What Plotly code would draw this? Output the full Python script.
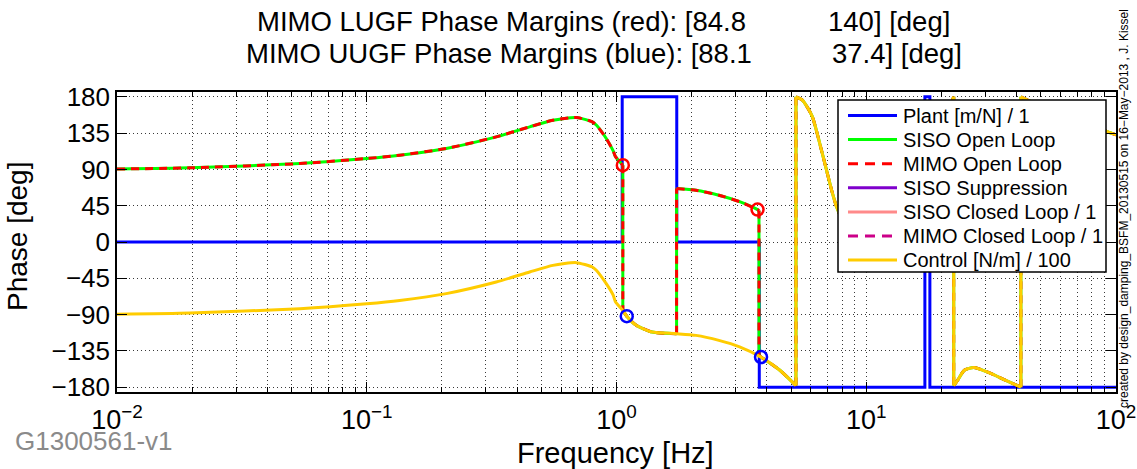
import plotly.graph_objects as go

# ---------------- data ----------------
plant_freq = [0.01, 1.054, 1.054, 1.743, 1.743, 3.73, 3.73, 17.17, 17.17, 17.98, 17.98, 100]
plant_phase = [0, 0, 180, 180, 0, 0, -180, -180, 180, 180, -180, -180]

ctrl_freq = [0.01, 0.0196, 0.054, 0.1, 0.1355, 0.208, 0.33, 0.449, 0.556, 0.69, 0.80, 0.83,
             0.91, 0.97, 0.99, 1.06, 1.099, 1.20, 1.39, 1.74, 2.08, 2.57, 3.11, 3.79, 4.51,
             5.23, 5.23, 5.55, 6.07, 6.64, 7.27, 7.6, 8.5, 10, 12, 15, 18, 20, 22.4,
             22.4, 23.2, 24.7, 27, 31, 36.2, 41.6,
             41.6, 45, 60, 80, 93.8, 100]
ctrl_phase = [-89.5, -88, -82.7, -76.5, -72.4, -64, -49.6, -37.2, -29, -25.6, -31, -35,
              -51.7, -66, -74, -84.8, -92, -103.3, -111.7, -113.7, -115.8, -122, -130, -142.7, -159,
              -178, 180, 176, 156, 112, 64, 44, 10, -15, -12, 20, 80, 140, 180,
              -178, -171.6, -159, -155.5, -162, -171.6, -180,
              180, 175, 160, 145, 136, 133]

ol_freq = [0.01, 0.0196, 0.054, 0.1, 0.1355, 0.208, 0.33, 0.449, 0.556, 0.69, 0.80, 0.83,
           0.91, 0.97, 0.99, 1.06, 1.06, 1.099, 1.20, 1.39, 1.74, 1.74, 2.08, 2.57, 3.11,
           3.67, 3.72, 3.72, 3.79]
ol_phase = [90.5, 92, 97.3, 103.5, 107.6, 116, 130.4, 142.8, 151, 154.4, 149, 145,
            128.3, 113, 106, 95.2, -84.8, -92, -103.3, -111.7, -113.7, 66.3, 64.2, 58, 50,
            40.2, 39, -141, -142.7]

lugf_freq = [1.06, 3.67]
lugf_phase = [95.2, 40.2]
uugf_freq = [1.099, 3.79]
uugf_phase = [-92.0, -142.6]

legend_names = ["Plant [m/N] / 1", "SISO Open Loop", "MIMO Open Loop", "SISO Suppression",
                "SISO Closed Loop / 1", "MIMO Closed Loop / 1", "Control [N/m] / 100"]
legend_colors = ["#0000FF", "#00FF00", "#FF0000", "#7F00CC", "#FF8A8A", "#CC0088", "#FFCC00"]
legend_dashes = ["solid", "solid", "10px,7px", "solid", "solid", "10px,7px", "solid"]

x_tickvals = [0.01, 0.1, 1, 10, 100]
x_ticktext = ["10<sup>\u22122</sup>", "10<sup>\u22121</sup>", "10<sup>0</sup>",
              "10<sup>1</sup>", "10<sup>2</sup>"]
x_minorvals = [m * d for d in (0.01, 0.1, 1, 10) for m in range(2, 10)]
y_tickvals = [-180, -135, -90, -45, 0, 45, 90, 135, 180]

title_l1 = ["MIMO LUGF Phase Margins (red): [84.8", "140] [deg]"]
title_l2 = ["MIMO UUGF Phase Margins (blue): [88.1", "37.4] [deg]"]
credit = "created by design_damping_BSFM_20130515 on 16\u2212May\u22122013 , J. Kissel"

# ---------------- helpers ----------------
def segments(xs, ys):
    """Split at repeated frequencies so vertical jumps become straight pieces."""
    ox, oy = [xs[0]], [ys[0]]
    for i in range(1, len(xs)):
        if xs[i] == xs[i - 1]:
            ox += [None, xs[i - 1], xs[i], None, xs[i]]
            oy += [None, ys[i - 1], ys[i], None, ys[i]]
        else:
            ox.append(xs[i])
            oy.append(ys[i])
    return ox, oy

FONT = "Liberation Sans, Arial, Helvetica, sans-serif"

fig = go.Figure()

# plant
fig.add_trace(go.Scatter(x=plant_freq, y=plant_phase, mode="lines", name=legend_names[0],
                         showlegend=False, line=dict(color=legend_colors[0], width=3)))

# open loops (coincide with control after the last crossing)
k = ctrl_freq.index(4.51)
olx, oly = segments(ol_freq + ctrl_freq[k:], ol_phase + ctrl_phase[k:])
fig.add_trace(go.Scatter(x=olx, y=oly, mode="lines", name=legend_names[1], showlegend=False,
                         line=dict(color=legend_colors[1], width=3, shape="spline", smoothing=0.6)))
fig.add_trace(go.Scatter(x=olx, y=oly, mode="lines", name=legend_names[2], showlegend=False,
                         line=dict(color=legend_colors[2], width=3, dash="8px,6px",
                                   shape="spline", smoothing=0.6)))
# control
cx, cy = segments(ctrl_freq, ctrl_phase)
fig.add_trace(go.Scatter(x=cx, y=cy, mode="lines", name=legend_names[6], showlegend=False,
                         line=dict(color=legend_colors[6], width=3, shape="spline", smoothing=0.6)))

# margin markers
fig.add_trace(go.Scatter(x=lugf_freq, y=lugf_phase, mode="markers", showlegend=False,
                         marker=dict(symbol="circle-open", size=12, color="#FF0000", line=dict(width=2.5))))
fig.add_trace(go.Scatter(x=uugf_freq, y=uugf_phase, mode="markers", showlegend=False,
                         marker=dict(symbol="circle-open", size=12, color="#0000FF", line=dict(width=2.5))))

L, R, T, B = 117, 21, 92, 77
W, H = 1137, 469
PW, PH = W - L - R, H - T - B

def px(x):
    return (x - L) / PW

def py(y):
    return (H - B - y) / PH

GRIDC = "#3a3a3a"
fig.update_xaxes(type="log", range=[-2, 2],
                 tickvals=x_tickvals, ticktext=x_ticktext,
                 ticks="inside", ticklen=10, tickwidth=1, tickcolor="black",
                 showline=True, linecolor="black", linewidth=1.5, mirror="ticks",
                 tickfont=dict(family=FONT, size=27, color="black"),
                 ticklabelstandoff=3,
                 showgrid=True, gridcolor=GRIDC, griddash="1px,3px", gridwidth=1,
                 minor=dict(tickvals=x_minorvals, ticks="inside", ticklen=5, tickcolor="black",
                            showgrid=True, gridcolor=GRIDC, griddash="1px,3px", gridwidth=1),
                 zeroline=False)
fig.update_yaxes(range=[-186, 186], tickvals=y_tickvals,
                 ticks="inside", ticklen=10, tickwidth=1, tickcolor="black",
                 showline=True, linecolor="black", linewidth=1.5, mirror="ticks",
                 tickfont=dict(family=FONT, size=26, color="black"),
                 showgrid=True, gridcolor=GRIDC, griddash="1px,3px", gridwidth=1,
                 zeroline=False)

ann = []
for txt, xx, yy, anc in [(title_l1[0], 748, 22, "right"), (title_l1[1], 826, 22, "left"),
                         (title_l2[0], 754, 53, "right"), (title_l2[1], 830, 53, "left")]:
    ann.append(dict(text=txt, x=px(xx), y=py(yy), xanchor=anc, yanchor="middle",
                    xref="paper", yref="paper", showarrow=False,
                    font=dict(family=FONT, size=27.5, color="black")))
ann.append(dict(text="Phase [deg]", x=px(18), y=py(237), textangle=-90, xref="paper", yref="paper",
                showarrow=False, xanchor="center", yanchor="middle",
                font=dict(family=FONT, size=28, color="black")))
ann.append(dict(text="Frequency [Hz]", x=px(615), y=py(453), xref="paper", yref="paper",
                showarrow=False, xanchor="center", yanchor="middle",
                font=dict(family=FONT, size=29, color="black")))
ann.append(dict(text="G1300561-v1", x=px(13), y=py(441), xref="paper", yref="paper",
                showarrow=False, xanchor="left", yanchor="middle",
                font=dict(family=FONT, size=26, color="#8a8a8a")))
ann.append(dict(text=credit, x=px(1124), y=py(209), textangle=-90, xref="paper", yref="paper",
                showarrow=False, xanchor="center", yanchor="middle",
                font=dict(family=FONT, size=12, color="black")))

# ---- legend box (drawn above the curves, like the MATLAB legend) ----
shapes = [dict(type="rect", xref="paper", yref="paper", layer="above",
               x0=px(838), x1=px(1106), y0=py(272), y1=py(100),
               fillcolor="white", line=dict(color="black", width=1.5))]
row0, drow = 115.5, 24.1
for i, name in enumerate(legend_names):
    yy = row0 + drow * i
    shapes.append(dict(type="line", xref="paper", yref="paper", layer="above",
                       x0=px(848), x1=px(897), y0=py(yy), y1=py(yy),
                       line=dict(color=legend_colors[i], width=3, dash=legend_dashes[i])))
    ann.append(dict(text=name, x=px(901), y=py(yy), xref="paper", yref="paper",
                    showarrow=False, xanchor="left", yanchor="middle",
                    font=dict(family=FONT, size=20, color="black")))

fig.update_layout(
    width=W, height=H,
    margin=dict(l=L, r=R, t=T, b=B, autoexpand=False),
    paper_bgcolor="white", plot_bgcolor="white",
    font=dict(family=FONT, color="black"),
    annotations=ann, shapes=shapes, showlegend=False,
)

fig.write_html("out.html")
